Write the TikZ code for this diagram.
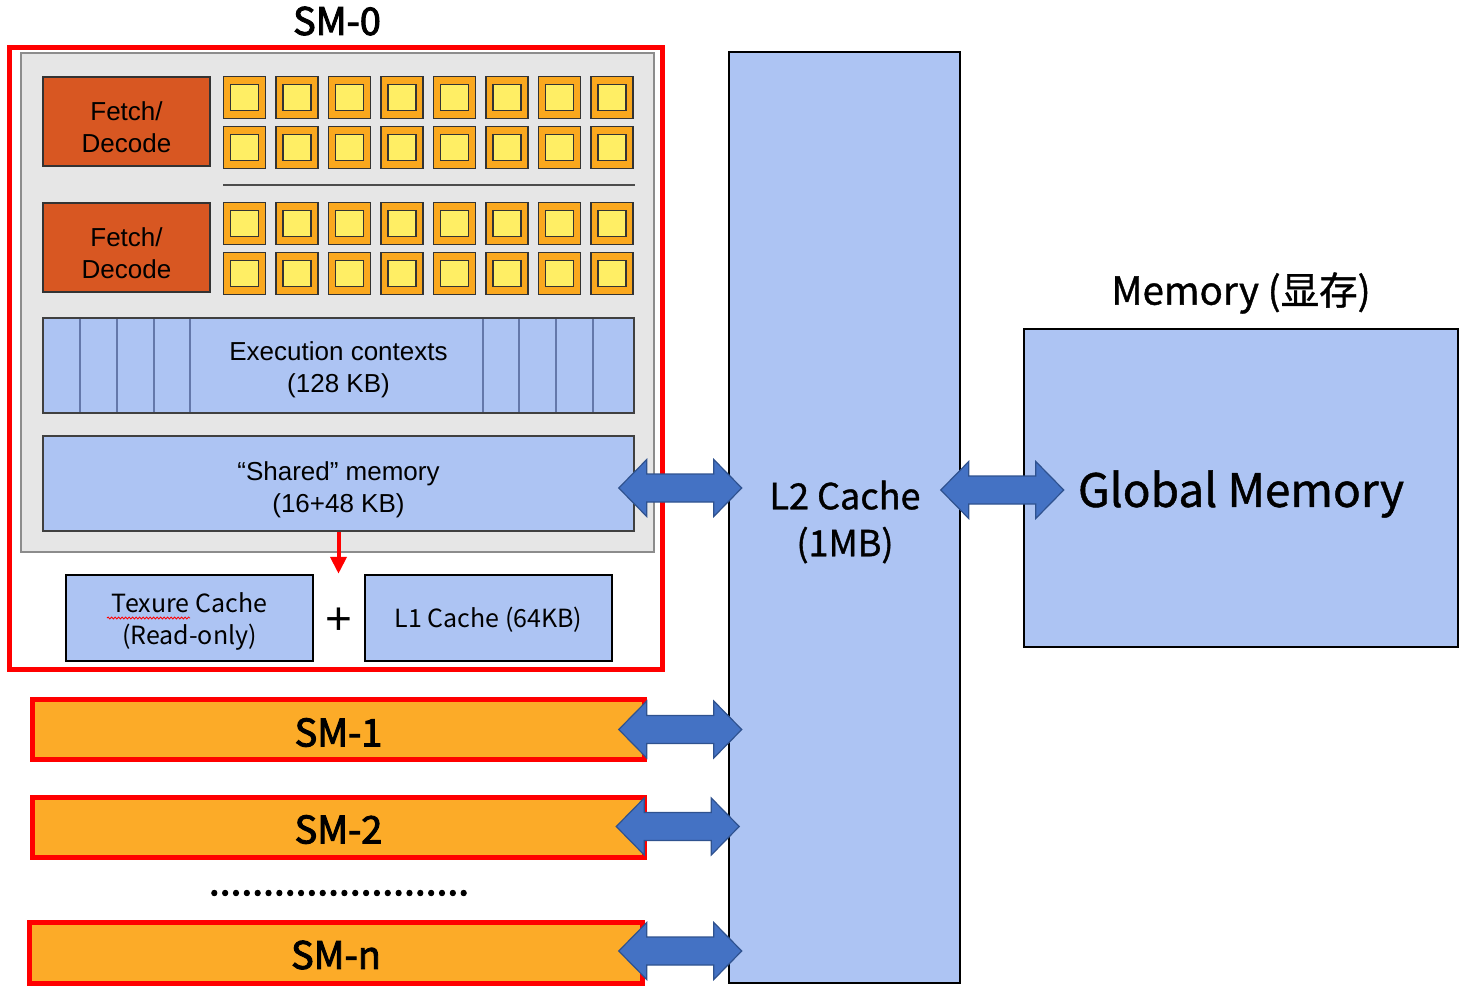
\documentclass[tikz,border=0pt]{standalone}
\usepackage{fontspec}
\setmainfont{Liberation Sans}
\newfontfamily\yahei{Noto Sans CJK SC}
\newfontfamily\yaheim[FakeBold=1]{Noto Sans CJK SC}
\newfontfamily\yaheib[FakeBold=2.5]{Noto Sans CJK SC}
\usetikzlibrary{positioning,calc,arrows.meta,decorations.pathmorphing}

\definecolor{smred}{RGB}{255,0,0}
\definecolor{smorange}{RGB}{252,171,40}
\definecolor{coreorange}{RGB}{250,168,30}
\definecolor{coreyellow}{RGB}{255,238,100}
\definecolor{fetchred}{RGB}{216,87,34}
\definecolor{cacheblue}{RGB}{173,196,243}
\definecolor{panelgrey}{RGB}{230,230,230}
\definecolor{arrowblue}{RGB}{68,114,196}
\definecolor{arrowedge}{RGB}{47,82,143}
\definecolor{ctxline}{RGB}{100,120,170}

\tikzset{
  smbox/.style={draw=smred, line width=5},
  smbar/.style={smbox, fill=smorange},
  smtext/.style={font=\yaheib\fontsize{38}{40}\selectfont},
  fetchbox/.style={draw=black!80, line width=1.5, fill=fetchred, minimum width=167, minimum height=89},
  celltext/.style={align=center, font=\fontsize{26}{32}\selectfont},
  coreout/.style={draw=black!80, line width=1.2, fill=coreorange, minimum width=42, minimum height=42},
  corein/.style={draw=black!80, line width=1.2, fill=coreyellow, minimum width=28, minimum height=26},
  memblk/.style={draw=black!75, line width=1.5, fill=cacheblue, minimum width=591, minimum height=95},
  cacheblk/.style={draw=black, line width=2.5, fill=cacheblue, minimum width=247, minimum height=86},
  cachetext/.style={align=center, font=\yahei\fontsize{25}{32}\selectfont},
  busarrow/.pic={\draw[fill=arrowblue, draw=arrowedge, line width=1.2]
    (-61.5,0) -- (-33.5,-28.5) -- (-33.5,-14) -- (33.5,-14) -- (33.5,-28.5) -- (61.5,0)
    -- (33.5,28.5) -- (33.5,14) -- (-33.5,14) -- (-33.5,28.5) -- cycle;}
}

\begin{document}
\begin{tikzpicture}[x=1pt,y=-1pt]
\tikzstyle{every node}+=[inner sep=0pt]
\useasboundingbox (0,0) rectangle (1460,993);

% SM-0 in detail
\node[smtext] (sm0lbl) at (337,21) {SM-0};
\node[smbox, minimum width=653, minimum height=622] (sm0) at (336,358.5) {};
\node[draw=black!45, line width=1.5, fill=panelgrey, minimum width=633, minimum height=499] (panel) at (337.5,302.5) {};
\node[fetchbox] (fd1) at (126.5,121.5) {};
\node[celltext] at ([yshift=-6pt]fd1.center) {Fetch/\\Decode};
\node[fetchbox] (fd2) at (126.5,247.5) {};
\node[celltext] at ([yshift=-6pt]fd2.center) {Fetch/\\Decode};
\foreach \i in {0,...,7}
  \foreach \y in {97.5,147.5,223.5,273.5} {
    \node[coreout] at ({244.5+52.5*\i},\y) {};
    \node[corein] at ({244.5+52.5*\i},\y) {};
  }
\draw[black!70, line width=2] (223,185) -- (635,185);
\node[memblk] (exe) at (338.5,365.5) {};
\foreach \x in {80,117,154,190,483,519,556,593}
  \draw[ctxline, line width=2] (\x,319) -- (\x,412);
\node[celltext] at ([yshift=-4pt]exe.center) {Execution contexts\\(128 KB)};
\node[memblk] (shm) at (338.5,483.5) {};
\node[celltext] at ([yshift=-6pt]shm.center) {“Shared” memory\\(16+48 KB)};
\node[cacheblk] (tex) at (189.5,618) {};
\node[cachetext] at ([yshift=-3pt]tex.center) {Texure Cache\\(Read-only)};
\node[cacheblk] (l1c) at (488.5,618) {};
\node[cachetext] at ([yshift=-2pt]l1c.center) {L1 Cache (64KB)};
\node[font=\fontsize{46}{46}\selectfont] (plus) at ([yshift=-3pt]$(tex.east)!.5!(l1c.west)$) {+};
\draw[smred, line width=4, -{Triangle[length=17pt,width=16pt]}] (shm.south) -- (shm.south |- l1c.north);
\draw[smred, line width=0.8, decorate, decoration={snake, amplitude=1pt, segment length=3.5pt}] (107,618) -- (190,618);

% other SMs
\node[smbar, minimum width=612, minimum height=60] (sm1) at (338.5,729.5) {};
\node[smtext] at ([yshift=-3pt]sm1.center) {SM-1};
\node[smbar, minimum width=612, minimum height=60] (sm2) at (338.5,827.5) {};
\node[smtext] at ([yshift=-2pt]sm2.center) {SM-2};
\node[font=\yaheib\fontsize{39}{40}\selectfont] (dots) at (339,893) {........................};
\node[smbar, minimum width=613, minimum height=61] (smn) at (336,953) {};
\node[smtext] at ([yshift=-2pt]smn.center) {SM-n};

% L2 and global memory
\node[draw=black, line width=2.5, fill=cacheblue, minimum width=231, minimum height=931] (l2) at (844.5,517.5) {};
\node[align=center, font=\yaheim\fontsize{36}{47}\selectfont] at (845,522) {L2 Cache\\(1MB)};
\node[draw=black, line width=2, fill=cacheblue, minimum width=434, minimum height=318] (gm) at (1241,488) {};
\node[font=\yaheim\fontsize{46}{50}\selectfont] at ([yshift=-6pt]gm.center) {Global Memory};
\node[font=\yaheim\fontsize{38.5}{40}\selectfont] (gmlbl) at (1241,293) {Memory (显存)};

% links
\pic at ($(l2.west |- shm.east)+(-47.5,4.5)$) {busarrow};
\pic at ($(l2.west |- sm1.east)+(-47.5,0)$) {busarrow};
\pic at ($(l2.west |- sm2.east)+(-50,-1)$) {busarrow};
\pic at ($(l2.west |- smn.east)+(-47.5,-2)$) {busarrow};
\pic at ($(l2.east |- gm.west)+(41,2)$) {busarrow};
\end{tikzpicture}
\end{document}
